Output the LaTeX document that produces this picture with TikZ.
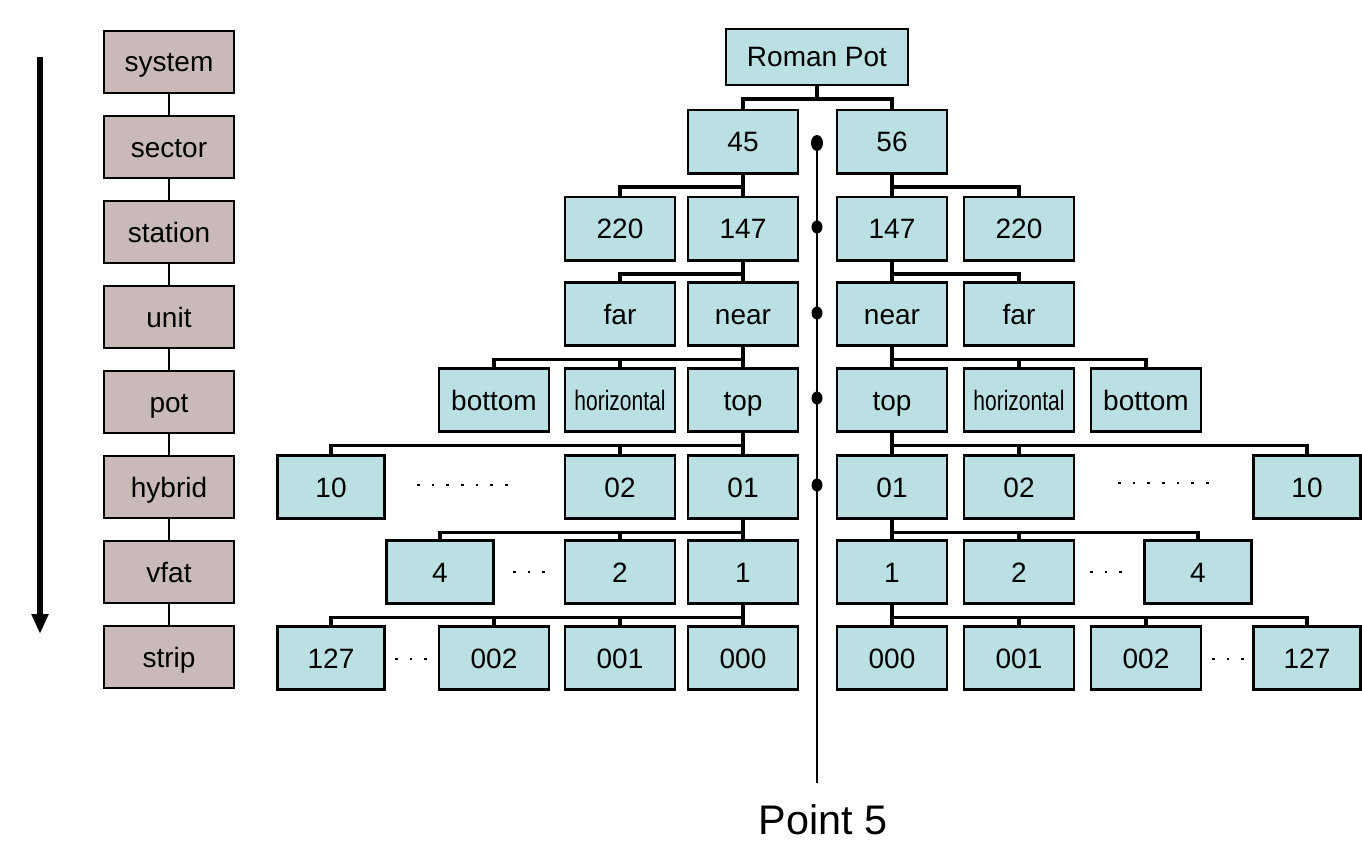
\documentclass[tikz,border=0pt]{standalone}
\usepackage{fontspec}
\setmainfont{Liberation Sans}
\usepackage{graphicx}
\usetikzlibrary{arrows.meta}
\definecolor{bluefill}{RGB}{186,224,227}
\definecolor{brownfill}{RGB}{201,185,185}
\begin{document}
\begin{tikzpicture}[x=0.75pt,y=0.75pt,
  lbl/.style={font=\fontsize{21}{24}\selectfont, text height=16pt, text depth=1pt},
  bluebox/.style={draw=black, fill=bluefill, line width=2pt, minimum width=82.5pt, minimum height=47.5pt, inner sep=0pt, lbl},
  narrowbox/.style={bluebox, minimum width=80.25pt},
  rootbox/.style={bluebox, minimum width=136.5pt, minimum height=42pt},
  brownbox/.style={draw=black, fill=brownfill, line width=2pt, minimum width=97.5pt, minimum height=46.5pt, inner sep=0pt, lbl},
  conn/.style={line width=2.5pt},
  lconn/.style={line width=2pt},
  axis/.style={line width=2pt},
  gap/.style={line width=1pt, dash pattern=on 2pt off 9pt},
  bigarrow/.style={line width=4.5pt, -{Triangle[length=15pt,width=12pt]}}
]
\useasboundingbox (0,0) rectangle (1362,-842);

% central axis (Point 5)
\coordinate (axtop) at (817,-143);
\coordinate (axbot) at (817,-783);
\draw[axis] (axtop) -- (axbot);
\fill (axtop) ellipse [x radius=6, y radius=8];
\foreach \yy in {227,313,398,485} \fill (817,-\yy) ellipse [x radius=5.5, y radius=6.5];
\node[font=\fontsize{31}{36}\selectfont] (p5) at (823,-820) {Point 5};

% left hierarchy column
\coordinate (arrtop) at (40,-57);
\coordinate (arrbot) at (40,-634);
\draw[bigarrow] (arrtop) -- (arrbot);
\node[brownbox] (l1) at (169,-62) {system};
\node[brownbox] (l2) at (169,-147) {sector};
\node[brownbox] (l3) at (169,-232) {station};
\node[brownbox] (l4) at (169,-317) {unit};
\node[brownbox] (l5) at (169,-402) {pot};
\node[brownbox] (l6) at (169,-487) {hybrid};
\node[brownbox] (l7) at (169,-572) {vfat};
\node[brownbox] (l8) at (169,-657) {strip};
\foreach \a/\b in {l1/l2,l2/l3,l3/l4,l4/l5,l5/l6,l6/l7,l7/l8}
  \draw[lconn] (\a.south) -- (\b.north);

% tree nodes
\node[rootbox] (rp) at (817,-57) {Roman Pot};
\node[bluebox] (s45) at (743,-141.5) {45};
\node[bluebox] (s56) at (892,-141.5) {56};

\node[bluebox] (stL220) at (620,-228.5) {220};
\node[bluebox] (stL147) at (743,-228.5) {147};
\node[bluebox] (stR147) at (892,-228.5) {147};
\node[bluebox] (stR220) at (1019,-228.5) {220};

\node[bluebox] (uLfar) at (620,-314) {far};
\node[bluebox] (uLnear) at (743,-314) {near};
\node[bluebox] (uRnear) at (892,-314) {near};
\node[bluebox] (uRfar) at (1019,-314) {far};

\node[bluebox] (pLb) at (494,-400) {bottom};
\node[bluebox] (pLh) at (620,-400) {\scalebox{0.75}[1]{horizontal}};
\node[bluebox] (pLt) at (743,-400) {top};
\node[bluebox] (pRt) at (892,-400) {top};
\node[bluebox] (pRh) at (1019,-400) {\scalebox{0.75}[1]{horizontal}};
\node[bluebox] (pRb) at (1146,-400) {bottom};

\node[narrowbox] (hL10) at (331,-487) {10};
\node[bluebox] (hL02) at (620,-487) {02};
\node[bluebox] (hL01) at (743,-487) {01};
\node[bluebox] (hR01) at (892,-487) {01};
\node[bluebox] (hR02) at (1019,-487) {02};
\node[narrowbox] (hR10) at (1307,-487) {10};

\node[narrowbox] (vL4) at (440,-572) {4};
\node[bluebox] (vL2) at (620,-572) {2};
\node[bluebox] (vL1) at (743,-572) {1};
\node[bluebox] (vR1) at (892,-572) {1};
\node[bluebox] (vR2) at (1019,-572) {2};
\node[narrowbox] (vR4) at (1198,-572) {4};

\node[narrowbox] (sL127) at (331,-658) {127};
\node[bluebox] (sL002) at (494,-658) {002};
\node[bluebox] (sL001) at (620,-658) {001};
\node[bluebox] (sL000) at (743,-658) {000};
\node[bluebox] (sR000) at (892,-658) {000};
\node[bluebox] (sR001) at (1019,-658) {001};
\node[bluebox] (sR002) at (1146,-658) {002};
\node[narrowbox] (sR127) at (1307,-658) {127};

% tree connectors
\foreach \p/\c in {rp/s45,rp/s56,
  s45/stL220,s45/stL147,s56/stR147,s56/stR220,
  stL147/uLfar,stL147/uLnear,stR147/uRnear,stR147/uRfar,
  uLnear/pLb,uLnear/pLh,uLnear/pLt,uRnear/pRt,uRnear/pRh,uRnear/pRb,
  pLt/hL10,pLt/hL02,pLt/hL01,pRt/hR01,pRt/hR02,pRt/hR10,
  hL01/vL4,hL01/vL2,hL01/vL1,hR01/vR1,hR01/vR2,hR01/vR4,
  vL1/sL127,vL1/sL002,vL1/sL001,vL1/sL000,vR1/sR000,vR1/sR001,vR1/sR002,vR1/sR127}
  \draw[conn] (\p.south) -- ++(0,-12.5) -| (\c.north);

% omitted-item dots
\coordinate (g1a) at (417,-485); \coordinate (g1b) at (512,-485);
\coordinate (g2a) at (1118,-483); \coordinate (g2b) at (1214,-483);
\coordinate (g3a) at (513,-572); \coordinate (g3b) at (545,-572);
\coordinate (g4a) at (1090,-572); \coordinate (g4b) at (1122,-572);
\coordinate (g5a) at (395,-659); \coordinate (g5b) at (427,-659);
\coordinate (g6a) at (1212,-659); \coordinate (g6b) at (1244,-659);
\foreach \a/\b in {g1a/g1b,g2a/g2b,g3a/g3b,g4a/g4b,g5a/g5b,g6a/g6b}
  \draw[gap] (\a) -- (\b);
\end{tikzpicture}
\end{document}
